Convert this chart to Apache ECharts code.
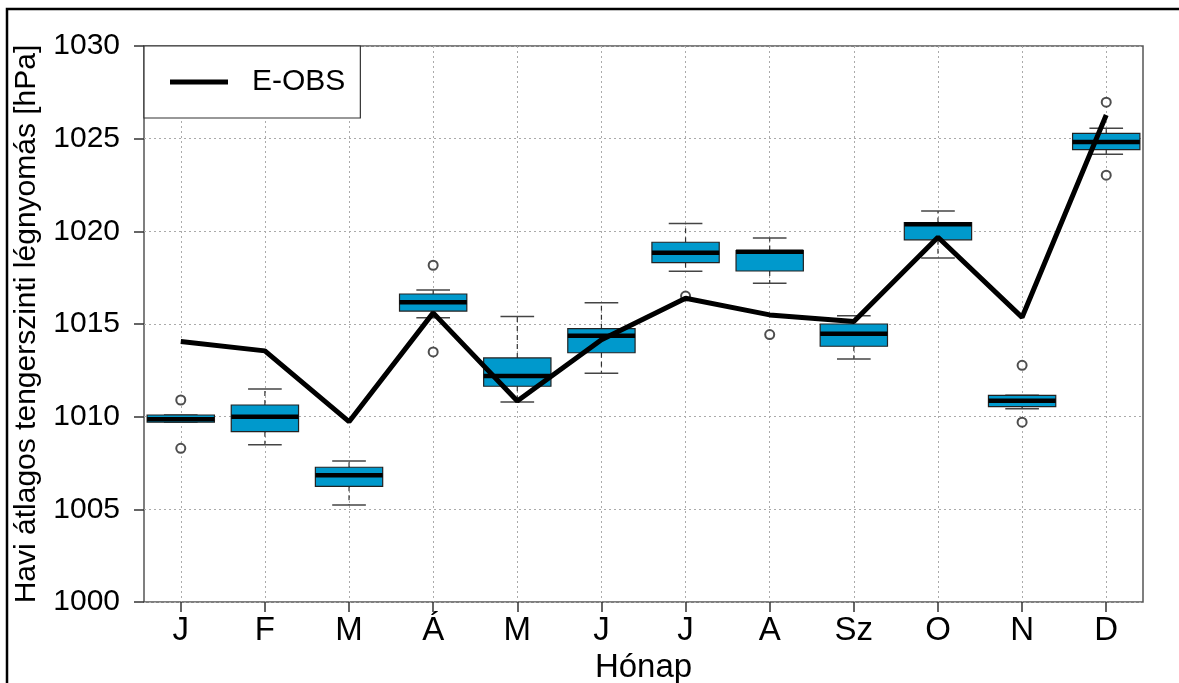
<!DOCTYPE html>
<html>
<head>
<meta charset="utf-8">
<script src="https://cdn.jsdelivr.net/npm/echarts@6/dist/echarts.min.js"></script>
<style>html,body{margin:0;padding:0;background:#fff;}#c{width:1179px;height:683px;}</style>
</head>
<body>
<div id="c"></div>
<script>
// Month labels
var months = ['J','F','M','Á','M','J','J','A','Sz','O','N','D'];
// Month positions (1..12)
var monthPos = [1,2,3,4,5,6,7,8,9,10,11,12];
// Box statistics per month: [whisker low, Q1, median, Q3, whisker high]
var boxStats = [
  [1009.70, 1009.70, 1009.86, 1010.09, 1010.09],
  [1008.49, 1009.19, 1010.00, 1010.63, 1011.49],
  [1005.23, 1006.24, 1006.84, 1007.27, 1007.61],
  [1015.34, 1015.70, 1016.17, 1016.62, 1016.84],
  [1010.79, 1011.64, 1012.20, 1013.17, 1015.40],
  [1012.34, 1013.45, 1014.37, 1014.75, 1016.15],
  [1017.85, 1018.31, 1018.85, 1019.41, 1020.42],
  [1017.20, 1017.86, 1018.90, 1018.96, 1019.64],
  [1013.11, 1013.80, 1014.48, 1015.00, 1015.45],
  [1018.56, 1019.54, 1020.38, 1020.47, 1021.10],
  [1010.43, 1010.54, 1010.86, 1011.15, 1011.15],
  [1024.16, 1024.41, 1024.82, 1025.29, 1025.56]
];
// Outliers: [month position, value]
var outliers = [
  [1, 1010.90], [1, 1008.29],
  [4, 1018.17], [4, 1013.49],
  [7, 1016.51],
  [8, 1014.43],
  [11, 1012.77], [11, 1009.70],
  [12, 1026.97], [12, 1023.03]
];
// E-OBS monthly mean
var eobs = [1014.05, 1013.55, 1009.73, 1015.60, 1010.85, 1014.15, 1016.39, 1015.49, 1015.13, 1019.68, 1015.36, 1026.28];
// Y ticks
var yMin = 1000, yMax = 1030, yStep = 5;

var FONT = "'Liberation Sans', Arial, sans-serif";

var boxData = monthPos.map(function(p, i){ return [p].concat(boxStats[i]); });
var lineData = monthPos.map(function(p, i){ return [p, eobs[i]]; });

var chart = echarts.init(document.getElementById('c'), null, {renderer: 'canvas'});
chart.setOption({
  animation: false,
  backgroundColor: '#fff',
  textStyle: {fontFamily: FONT},
  grid: {left: 144, top: 46, right: 36, bottom: 81, show: true, borderColor: '#555', borderWidth: 1.5,
    backgroundColor: 'transparent', containLabel: false, outerBoundsMode: 'none'},
  graphic: [{
    type: 'rect', z: 100, silent: true,
    shape: {x: 7, y: 9, width: 1300, height: 800},
    style: {fill: 'none', stroke: '#000', lineWidth: 2.5}
  }],
  legend: {
    left: 144, top: 46,
    orient: 'horizontal',
    padding: [21, 15, 21, 26],
    borderColor: '#333', borderWidth: 1.2, backgroundColor: '#fff',
    itemWidth: 58, itemHeight: 5,
    data: [{name: 'E-OBS', icon: 'rect', itemStyle: {color: '#000'}}],
    textStyle: {fontSize: 30, fontFamily: FONT, color: '#000', padding: [0, 0, 0, 19]}
  },
  xAxis: {
    type: 'value', min: 0.563, max: 12.437,
    name: 'Hónap', nameLocation: 'middle', nameGap: 41,
    nameTextStyle: {fontSize: 33, fontFamily: FONT, color: '#000'},
    axisLine: {show: false},
    axisTick: {show: true, length: 10, customValues: monthPos, lineStyle: {color: '#333', width: 1.5}},
    axisLabel: {customValues: monthPos, fontSize: 33, fontFamily: FONT, color: '#000', margin: 12,
      formatter: function(v){ return months[Math.round(v) - 1]; }},
    splitLine: {show: true, lineStyle: {color: '#aaa', type: [2, 3], width: 1}}
  },
  yAxis: {
    type: 'value', min: yMin, max: yMax, interval: yStep,
    name: 'Havi átlagos tengerszinti légnyomás [hPa]', nameLocation: 'middle', nameGap: 102, nameRotate: 90,
    nameTextStyle: {fontSize: 30, fontFamily: FONT, color: '#000'},
    axisLine: {show: false},
    axisTick: {show: true, length: 10, lineStyle: {color: '#333', width: 1.5}},
    axisLabel: {fontSize: 30, fontFamily: FONT, color: '#000', margin: 24,
      formatter: function(v){ return String(v); }},
    splitLine: {show: true, lineStyle: {color: '#aaa', type: [2, 3], width: 1}}
  },
  series: [
    {
      type: 'custom', name: 'box', z: 2,
      data: boxData,
      encode: {x: 0, y: [1, 2, 3, 4, 5]},
      renderItem: function(params, api){
        var x = api.value(0);
        var lo = api.coord([x, api.value(1)]);
        var q1 = api.coord([x, api.value(2)]);
        var md = api.coord([x, api.value(3)]);
        var q3 = api.coord([x, api.value(4)]);
        var hi = api.coord([x, api.value(5)]);
        var hw = api.size([0.8, 0])[0] / 2;
        var cw = hw / 2;
        var cx = lo[0];
        var wStyle = {stroke: '#333', lineWidth: 1.2, lineDash: [5, 4]};
        var cStyle = {stroke: '#444', lineWidth: 1.5};
        return {
          type: 'group',
          children: [
            {type: 'line', shape: {x1: cx, y1: q3[1], x2: cx, y2: hi[1]}, style: wStyle},
            {type: 'line', shape: {x1: cx, y1: q1[1], x2: cx, y2: lo[1]}, style: wStyle},
            {type: 'line', shape: {x1: cx - cw, y1: hi[1], x2: cx + cw, y2: hi[1]}, style: cStyle},
            {type: 'line', shape: {x1: cx - cw, y1: lo[1], x2: cx + cw, y2: lo[1]}, style: cStyle},
            {type: 'rect', shape: {x: cx - hw, y: q3[1], width: hw * 2, height: q1[1] - q3[1]},
              style: {fill: '#0099CC', stroke: '#222', lineWidth: 1.2}},
            {type: 'line', shape: {x1: cx - hw, y1: md[1], x2: cx + hw, y2: md[1]}, style: {stroke: '#000', lineWidth: 4.5}}
          ]
        };
      }
    },
    {
      type: 'scatter', name: 'outliers', z: 3,
      data: outliers,
      symbol: 'emptyCircle', symbolSize: 9,
      itemStyle: {color: '#222', borderWidth: 1.2}
    },
    {
      type: 'line', name: 'E-OBS', z: 4,
      data: lineData,
      symbol: 'none',
      lineStyle: {color: '#000', width: 5},
      itemStyle: {color: '#000'}
    }
  ]
});
</script>
</body>
</html>
